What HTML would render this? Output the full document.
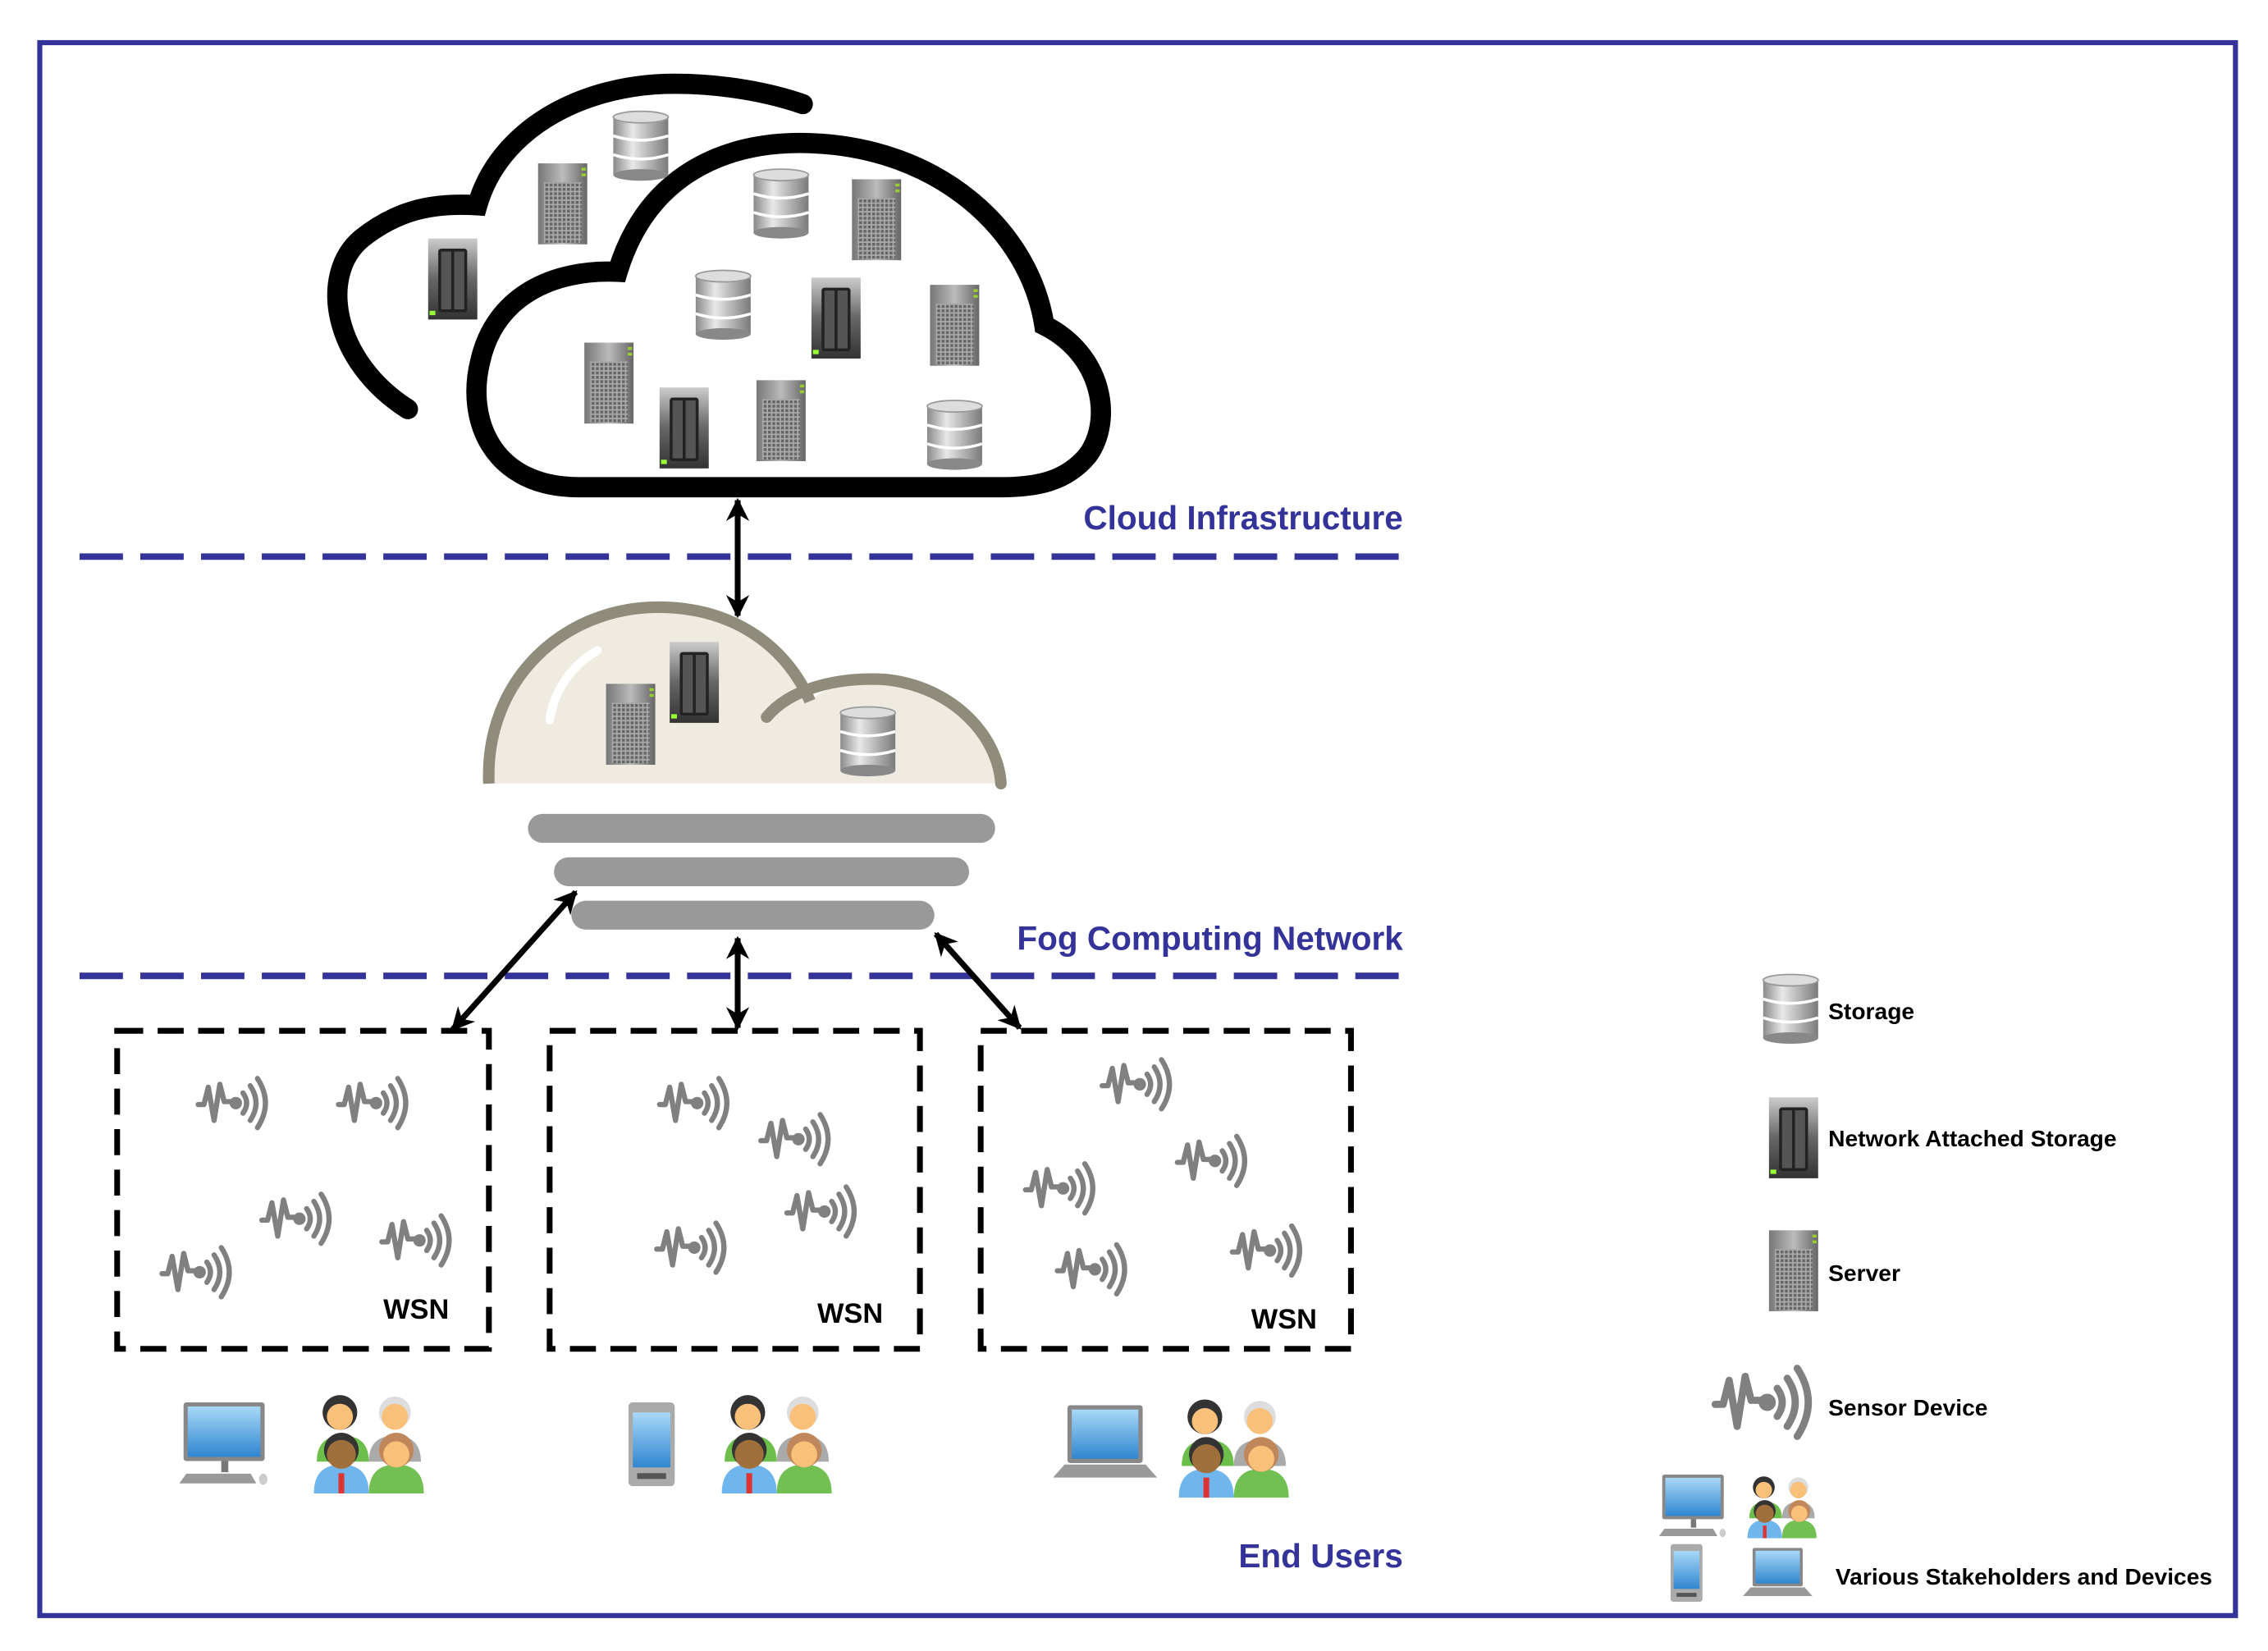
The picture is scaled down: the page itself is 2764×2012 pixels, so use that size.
<!DOCTYPE html>
<html><head><meta charset="utf-8"><style>html,body{margin:0;padding:0;background:#fff}svg{display:block}</style></head><body>
<svg width="2764" height="2012" viewBox="0 0 1568 1142" preserveAspectRatio="none" xmlns="http://www.w3.org/2000/svg" font-family="Liberation Sans, Arial, sans-serif">
<defs>
<linearGradient id="cyl" x1="0" x2="1"><stop offset="0" stop-color="#8a8a8a"/><stop offset=".35" stop-color="#e8e8e8"/><stop offset="1" stop-color="#7a7a7a"/></linearGradient>
<linearGradient id="srv" x1="0" x2="1"><stop offset="0" stop-color="#777"/><stop offset=".5" stop-color="#bbb"/><stop offset="1" stop-color="#666"/></linearGradient>
<linearGradient id="nas" x1="0" x2="0" y1="0" y2="1"><stop offset="0" stop-color="#ccc"/><stop offset=".5" stop-color="#666"/><stop offset="1" stop-color="#333"/></linearGradient>
<linearGradient id="scr" x1="0" x2="0" y1="0" y2="1"><stop offset="0" stop-color="#a8d8f8"/><stop offset="1" stop-color="#2f86d0"/></linearGradient>
<pattern id="grid" width="3" height="3" patternUnits="userSpaceOnUse"><rect width="3" height="3" fill="#aaa"/><rect width="2" height="2" fill="#666"/></pattern>
<symbol id="stor" viewBox="0 0 40 50"><rect x="1" y="5" width="38" height="40" fill="url(#cyl)"/><ellipse cx="20" cy="45" rx="19" ry="4" fill="#888"/><ellipse cx="20" cy="5" rx="19" ry="4" fill="#ddd" stroke="#999"/><path d="M1,18 Q20,24 39,18 M1,31 Q20,37 39,31" stroke="#fff" stroke-width="2" fill="none"/></symbol>
<symbol id="serv" viewBox="0 0 36 58"><rect x="1" y="1" width="34" height="56" fill="url(#srv)"/><rect x="5" y="14" width="26" height="42" fill="url(#grid)"/><rect x="31" y="4" width="3" height="2" fill="#9c3"/><rect x="31" y="8" width="3" height="2" fill="#9c3"/></symbol>
<symbol id="nasS" viewBox="0 0 36 58"><rect x="1" y="1" width="34" height="56" fill="url(#nas)"/><rect x="8" y="8" width="20" height="44" rx="2" fill="#222"/><rect x="10" y="10" width="7" height="40" fill="#555"/><rect x="19" y="10" width="7" height="40" fill="#555"/><rect x="2" y="51" width="4" height="3" fill="#9f3"/></symbol>
<symbol id="sens" viewBox="0 0 52 36" overflow="visible"><g stroke="#808080" stroke-width="3.6" fill="none" stroke-linecap="round" stroke-linejoin="round"><path d="M2,19 L6,19 L9,7 L13,30 L17,5 L20,17 L27,17"/><circle cx="28" cy="18" r="2.5" fill="#808080"/><path d="M33,11 Q38,18 33,25"/><path d="M38,6 Q46,18 38,30"/><path d="M43,1 Q54,18 43,35"/></g></symbol>
<symbol id="ppl" viewBox="0 0 80 70"><path d="M4,48 Q4,30 22,30 Q40,30 40,48Z" fill="#6cbf4a"/><path d="M40,48 Q40,30 58,30 Q76,30 76,48Z" fill="#aaa"/><circle cx="20" cy="14" r="12" fill="#333"/><circle cx="20" cy="17" r="9" fill="#f9c07a"/><circle cx="58" cy="14" r="11" fill="#ddd"/><circle cx="58" cy="17" r="9" fill="#f9c07a"/><path d="M2,70 Q2,50 21,50 Q40,50 40,70Z" fill="#6fb5ee"/><path d="M40,70 Q40,50 59,50 Q78,50 78,70Z" fill="#72c052"/><rect x="19" y="56" width="4" height="14" fill="#d33"/><circle cx="21" cy="40" r="12" fill="#333"/><circle cx="21" cy="43" r="10" fill="#a0703c"/><circle cx="59" cy="40" r="12" fill="#c0875a"/><circle cx="59" cy="43" r="9" fill="#f9c07a"/></symbol>
<symbol id="desk" viewBox="0 0 70 60"><rect x="8" y="0" width="58" height="42" rx="2" fill="#888"/><rect x="11" y="3" width="52" height="36" fill="url(#scr)"/><rect x="35" y="42" width="5" height="8" fill="#777"/><path d="M5,58 L10,51 L56,51 L60,58Z" fill="#999"/><ellipse cx="65" cy="55" rx="3" ry="4" fill="#ccc"/></symbol>
<symbol id="phone" viewBox="0 0 32 58"><rect x="0" y="0" width="32" height="58" rx="3" fill="#aaa"/><rect x="3" y="7" width="26" height="38" fill="url(#scr)"/><rect x="6" y="49" width="20" height="4" fill="#555"/></symbol>
<symbol id="lap" viewBox="0 0 72 52"><rect x="10" y="0" width="52" height="40" rx="2" fill="#888"/><rect x="13" y="3" width="46" height="34" fill="url(#scr)"/><path d="M0,50 L8,41 L64,41 L72,50Z" fill="#999"/></symbol>
<marker id="ah" viewBox="0 0 10 10" refX="9" refY="5" markerWidth="4" markerHeight="4" orient="auto-start-reverse"><path d="M0,0 L10,5 L0,10 L3,5Z" fill="#000"/></marker>
</defs>
<rect x="27.5" y="29.5" width="1518" height="1088" fill="none" stroke="#333399" stroke-width="3.5"/>
<path d="M282,283 C230,250 220,190 250,165 C275,145 300,140 330,142 C345,90 400,60 460,58 C500,57 535,65 555,72" fill="none" stroke="#000" stroke-width="14" stroke-linecap="round"/>
<path d="M400,337 C340,337 322,290 332,250 C342,205 382,186 427,188 C447,122 500,97 560,99 C650,102 712,160 722,225 C762,245 770,290 752,315 C737,333 717,337 692,337 Z" fill="#fff" stroke="#000" stroke-width="14"/>
<use href="#stor" x="422" y="76" width="42" height="50"/>
<use href="#stor" x="519" y="116" width="42" height="50"/>
<use href="#stor" x="479" y="186" width="42" height="50"/>
<use href="#stor" x="639" y="276" width="42" height="50"/>
<use href="#serv" x="371" y="112" width="36" height="58"/>
<use href="#serv" x="588" y="123" width="36" height="58"/>
<use href="#serv" x="403" y="236" width="36" height="58"/>
<use href="#serv" x="522" y="262" width="36" height="58"/>
<use href="#serv" x="642" y="196" width="36" height="58"/>
<use href="#nasS" x="295" y="164" width="36" height="58"/>
<use href="#nasS" x="560" y="191" width="36" height="58"/>
<use href="#nasS" x="455" y="267" width="36" height="58"/>
<text x="970" y="366" text-anchor="end" font-size="23" font-weight="bold" fill="#333399">Cloud Infrastructure</text>
<line x1="55" y1="385" x2="970" y2="385" stroke="#333399" stroke-width="4.5" stroke-dasharray="30,12"/>
<path d="M338,542 C335,470 390,420 455,420 C510,420 545,450 560,485 C575,472 595,468 612,470 C660,475 690,510 692,542 Z" fill="#efebe0"/>
<path d="M338,542 C335,470 390,420 455,420 C510,420 545,450 560,485" fill="none" stroke="#8f8c7c" stroke-width="8"/>
<path d="M530,496 C545,478 575,468 612,470 C660,475 690,510 692,542" fill="none" stroke="#8f8c7c" stroke-width="8" stroke-linecap="round"/>
<path d="M380,498 C383,478 395,460 413,450" fill="none" stroke="#fff" stroke-width="6" stroke-linecap="round"/>
<use href="#serv" x="418" y="472" width="36" height="58"/>
<use href="#nasS" x="462" y="443" width="36" height="58"/>
<use href="#stor" x="579" y="488" width="42" height="50"/>
<rect x="365" y="563" width="323" height="20" rx="10" fill="#999"/>
<rect x="383" y="593" width="287" height="20" rx="10" fill="#999"/>
<rect x="395" y="623" width="251" height="20" rx="10" fill="#999"/>
<text x="970" y="657" text-anchor="end" font-size="23" font-weight="bold" fill="#333399">Fog Computing Network</text>
<line x1="55" y1="675" x2="970" y2="675" stroke="#333399" stroke-width="4.5" stroke-dasharray="30,12"/>
<g stroke="#000" stroke-width="4" marker-start="url(#ah)" marker-end="url(#ah)">
<line x1="510" y1="346" x2="510" y2="426"/>
<line x1="510" y1="649" x2="510" y2="711"/>
<line x1="398" y1="617" x2="313" y2="712"/>
<line x1="647" y1="646" x2="705" y2="711"/>
</g>
<g fill="none" stroke="#000" stroke-width="4" stroke-dasharray="18,10">
<rect x="81" y="713" width="257" height="220"/>
<rect x="380" y="713" width="256" height="220"/>
<rect x="678" y="713" width="256" height="220"/>
</g>
<g font-size="19.5" font-weight="bold" fill="#000">
<text x="265" y="912">WSN</text><text x="565" y="915">WSN</text><text x="865" y="919">WSN</text>
</g>
<g>
<use href="#sens" x="135" y="745" width="52" height="36"/>
<use href="#sens" x="232" y="745" width="52" height="36"/>
<use href="#sens" x="179" y="825" width="52" height="36"/>
<use href="#sens" x="262" y="840" width="52" height="36"/>
<use href="#sens" x="110" y="862" width="52" height="36"/>
<use href="#sens" x="454" y="745" width="52" height="36"/>
<use href="#sens" x="524" y="770" width="52" height="36"/>
<use href="#sens" x="542" y="820" width="52" height="36"/>
<use href="#sens" x="452" y="845" width="52" height="36"/>
<use href="#sens" x="760" y="732" width="52" height="36"/>
<use href="#sens" x="812" y="785" width="52" height="36"/>
<use href="#sens" x="707" y="804" width="52" height="36"/>
<use href="#sens" x="850" y="847" width="52" height="36"/>
<use href="#sens" x="729" y="860" width="52" height="36"/>
</g>
<use href="#desk" x="118" y="970" width="70" height="58"/>
<use href="#ppl" x="215" y="963" width="80" height="70"/>
<use href="#phone" x="434" y="970" width="33" height="58"/>
<use href="#ppl" x="497" y="963" width="80" height="70"/>
<use href="#lap" x="728" y="972" width="72" height="52"/>
<use href="#ppl" x="813" y="966" width="80" height="70"/>
<text x="970" y="1084" text-anchor="end" font-size="23" font-weight="bold" fill="#333399">End Users</text>
<use href="#stor" x="1217" y="673" width="42" height="50"/>
<use href="#nasS" x="1222" y="757" width="36" height="60"/>
<use href="#serv" x="1222" y="850" width="36" height="58"/>
<use href="#sens" x="1183" y="945" width="72" height="50"/>
<use href="#desk" x="1140" y="1020" width="58" height="44"/>
<use href="#ppl" x="1206" y="1020" width="52" height="44"/>
<use href="#phone" x="1154" y="1068" width="24" height="40"/>
<use href="#lap" x="1205" y="1070" width="48" height="36"/>
<g font-size="16" font-weight="bold" fill="#000">
<text x="1264" y="705">Storage</text>
<text x="1264" y="793">Network Attached Storage</text>
<text x="1264" y="886">Server</text>
<text x="1264" y="979">Sensor Device</text>
<text x="1269" y="1096">Various Stakeholders and Devices</text>
</g>
</svg>
</body></html>
